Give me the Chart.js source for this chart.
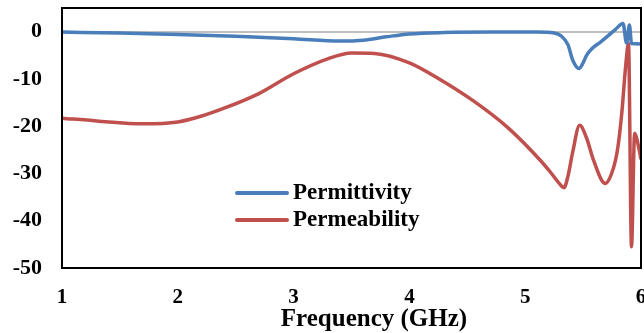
<!DOCTYPE html>
<html>
<head>
<meta charset="utf-8">
<script src="https://cdn.jsdelivr.net/npm/chart.js@4"></script>
<style>
  html, body { margin: 0; background: #fff; }
  #wrap { width: 644px; height: 333px; }
</style>
</head>
<body>
<div id="wrap"><canvas id="chart"></canvas></div>
<script>
// Permittivity (real part) vs frequency, GHz
const freqPermittivity = [1.0, 1.5, 2.0, 2.5, 3.0, 3.4, 3.6, 3.8, 4.0, 4.3, 4.7, 5.1, 5.25, 5.31, 5.37, 5.41, 5.465, 5.5, 5.53, 5.58, 5.65, 5.72, 5.78, 5.845, 5.875, 5.9, 5.918, 6.0];
const permittivity     = [-0.1, -0.3, -0.6, -1.0, -1.5, -2.0, -1.8, -1.1, -0.5, -0.2, -0.1, -0.1, -0.3, -0.9, -2.8, -6.0, -7.8, -6.6, -5.0, -3.5, -2.2, -0.8, 0.5, 1.7, -2.4, 1.4, -2.5, -2.6];

// Permeability (real part) vs frequency, GHz
const freqPermeability = [1.0, 1.3, 1.7, 2.0, 2.2, 2.4, 2.7, 3.0, 3.3, 3.5, 3.7, 4.0, 4.25, 4.55, 4.85, 5.13, 5.22, 5.29, 5.335, 5.37, 5.41, 5.47, 5.53, 5.59, 5.69, 5.76, 5.8, 5.835, 5.865, 5.892, 5.918, 5.945, 5.962, 6.0];
const permeability     = [-18.3, -18.9, -19.5, -19.1, -17.9, -16.2, -13.1, -8.9, -5.7, -4.5, -4.6, -6.6, -9.9, -14.6, -20.3, -27.2, -29.8, -32.0, -33.0, -30.5, -25.5, -19.8, -22.5, -27.2, -32.1, -29.0, -24.5, -17.0, -8.0, -2.5, -45.5, -21.5, -22.5, -27.0];

const seriesNames = ['Permittivity', 'Permeability'];
const seriesColors = ['#4a7ebb', '#c0504d'];

const xTickValues = [1, 2, 3, 4, 5, 6];
const yTickValues = [0, -10, -20, -30, -40, -50];

const serif = 'Liberation Serif, "Times New Roman", serif';

function toPoints(xs, ys) {
  return xs.map((x, i) => ({ x: x, y: ys[i] }));
}

// frame around the plot, the in-plot legend and the axis title
const decorations = {
  id: 'decorations',
  afterDatasetsDraw(chart) {
    const { ctx, chartArea: a } = chart;
    ctx.save();
    ctx.strokeStyle = '#000';
    ctx.lineWidth = 2;
    ctx.strokeRect(a.left, a.top, a.right - a.left, a.bottom - a.top);
    ctx.restore();
  },
  afterDraw(chart) {
    const ctx = chart.ctx;
    ctx.save();
    chart.data.datasets.forEach((ds, i) => {
      const y = 193 + i * 27;
      ctx.strokeStyle = ds.borderColor;
      ctx.lineWidth = 4;
      ctx.lineCap = 'round';
      ctx.beginPath();
      ctx.moveTo(237, y);
      ctx.lineTo(287, y);
      ctx.stroke();
      ctx.fillStyle = '#000';
      ctx.font = 'bold 23px ' + serif;
      ctx.textAlign = 'left';
      ctx.textBaseline = 'middle';
      ctx.fillText(ds.label, 293, y);
    });
    ctx.font = 'bold 25px ' + serif;
    ctx.textAlign = 'center';
    ctx.textBaseline = 'alphabetic';
    ctx.fillText('Frequency (GHz)', 374, 326);
    ctx.restore();
  }
};

new Chart(document.getElementById('chart'), {
  type: 'line',
  data: {
    datasets: [
      {
        label: seriesNames[0],
        data: toPoints(freqPermittivity, permittivity),
        borderColor: seriesColors[0],
        borderWidth: 3.5,
        pointRadius: 0,
        cubicInterpolationMode: 'monotone',
        fill: false
      },
      {
        label: seriesNames[1],
        data: toPoints(freqPermeability, permeability),
        borderColor: seriesColors[1],
        borderWidth: 3.5,
        pointRadius: 0,
        cubicInterpolationMode: 'monotone',
        fill: false
      }
    ]
  },
  options: {
    responsive: true,
    maintainAspectRatio: false,
    animation: false,
    layout: { padding: { top: 8, right: 3, left: 0, bottom: 0 } },
    scales: {
      x: {
        type: 'linear',
        min: 1,
        max: 6,
        afterBuildTicks: s => { s.ticks = xTickValues.map(v => ({ value: v })); },
        afterFit: s => { s.height = 65; s.paddingLeft = 0; s.paddingRight = 0; },
        ticks: {
          font: { family: serif, size: 21, weight: 'bold' },
          color: '#000',
          padding: 17,
          maxRotation: 0
        },
        grid: { display: false, drawTicks: false },
        border: { display: false }
      },
      y: {
        min: -50,
        max: 5,
        afterBuildTicks: s => { s.ticks = yTickValues.map(v => ({ value: v })); },
        afterFit: s => { s.width = 62; s.paddingTop = 0; s.paddingBottom = 0; },
        ticks: {
          font: { family: serif, size: 22, weight: 'bold' },
          color: '#000',
          padding: 20
        },
        grid: {
          drawTicks: false,
          lineWidth: 2,
          // only the zero line is shown
          color: c => (c.tick && c.tick.value === 0 ? '#bfbfbf' : 'rgba(0,0,0,0)')
        },
        border: { display: false }
      }
    },
    plugins: {
      legend: { display: false },
      tooltip: { enabled: false }
    }
  },
  plugins: [decorations]
});
</script>
</body>
</html>
